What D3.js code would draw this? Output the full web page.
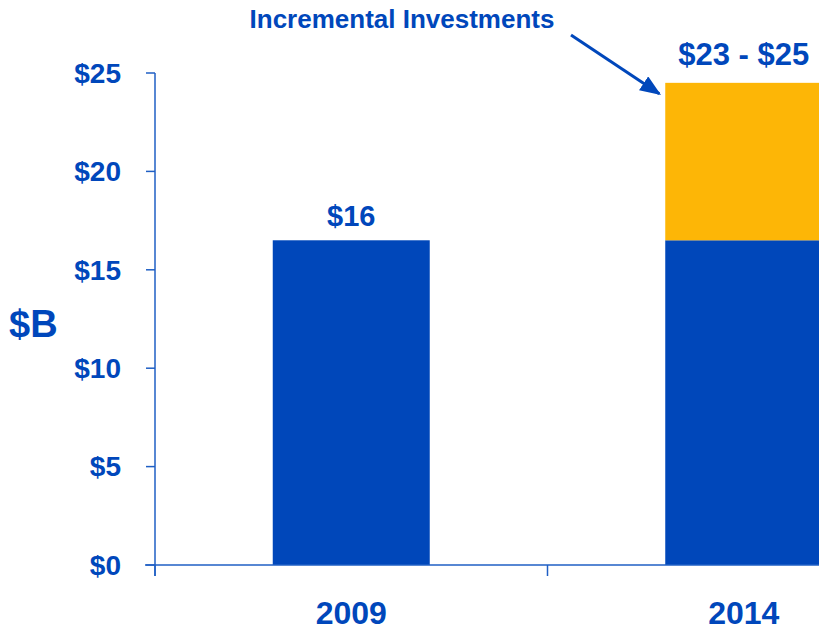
<!DOCTYPE html>
<html>
<head>
<meta charset="utf-8">
<script src="https://cdn.jsdelivr.net/npm/d3@7"></script>
<style>
  html, body { margin: 0; padding: 0; background: #fff; }
  svg { display: block; font-family: "Liberation Sans", Arial, sans-serif; font-weight: bold; }
</style>
</head>
<body>
<div id="chart"></div>
<script>
// Data
const years = ['2009', '2014'];
const baseValues = [16.5, 16.5];        // existing spend ($B)
const incrementalValues = [0, 8];       // incremental investments ($B)
const valueLabels = ['$16', '$23 - $25'];
const yTicks = [0, 5, 10, 15, 20, 25];

const width = 819;
const height = 630;
const textBlue = '#0047bb';
const barBlue = '#0047ba';
const barOrange = '#fdb606';
const axisBlue = '#1f5fc4';

const svg = d3.select('#chart')
  .append('svg')
  .attr('width', width)
  .attr('height', height);

// Scales — the plot runs past the right edge, like the original slide
const x = d3.scaleBand()
  .domain(years)
  .range([155, 940])
  .paddingInner(0.6)
  .paddingOuter(0.3);

const y = d3.scaleLinear()
  .domain([0, 25])
  .range([565, 73]);

const gap = (x.step() - x.bandwidth()) / 2;

// Bars: base (blue) + incremental (orange) stacked
const stackData = years.map((yr, i) => ({ year: yr, base: baseValues[i], inc: incrementalValues[i] }));

svg.selectAll('rect.base')
  .data(stackData)
  .join('rect')
  .attr('class', 'base')
  .attr('x', d => x(d.year))
  .attr('width', x.bandwidth())
  .attr('y', d => y(d.base))
  .attr('height', d => y(0) - y(d.base))
  .attr('fill', barBlue);

svg.selectAll('rect.inc')
  .data(stackData.filter(d => d.inc > 0))
  .join('rect')
  .attr('class', 'inc')
  .attr('x', d => x(d.year))
  .attr('width', x.bandwidth())
  .attr('y', d => y(d.base + d.inc))
  .attr('height', d => y(d.base) - y(d.base + d.inc))
  .attr('fill', barOrange);

// Y axis
const yAxis = svg.append('g').attr('class', 'y-axis');
yAxis.append('line')
  .attr('x1', 155).attr('x2', 155)
  .attr('y1', y(25)).attr('y2', y(0) + 11)
  .attr('stroke', axisBlue).attr('stroke-width', 1.5);

yAxis.selectAll('line.tick')
  .data(yTicks)
  .join('line')
  .attr('class', 'tick')
  .attr('x1', 146).attr('x2', 155)
  .attr('y1', d => y(d)).attr('y2', d => y(d))
  .attr('stroke', axisBlue).attr('stroke-width', 1.5);

yAxis.selectAll('text')
  .data(yTicks)
  .join('text')
  .attr('x', 121)
  .attr('y', d => y(d))
  .attr('dy', '0.35em')
  .attr('text-anchor', 'end')
  .attr('font-size', '28px')
  .attr('fill', textBlue)
  .text(d => '$' + d);

// X axis
const xAxis = svg.append('g').attr('class', 'x-axis');
xAxis.append('line')
  .attr('x1', 145).attr('x2', 940)
  .attr('y1', y(0)).attr('y2', y(0))
  .attr('stroke', axisBlue).attr('stroke-width', 1.5);

const boundaries = years.map(d => x(d) - gap).concat([x(years[years.length - 1]) + x.bandwidth() + gap]);
xAxis.selectAll('line.tick')
  .data(boundaries)
  .join('line')
  .attr('class', 'tick')
  .attr('x1', d => d).attr('x2', d => d)
  .attr('y1', y(0)).attr('y2', y(0) + 11)
  .attr('stroke', axisBlue).attr('stroke-width', 1.5);

xAxis.selectAll('text')
  .data(years)
  .join('text')
  .attr('x', d => x(d) + x.bandwidth() / 2)
  .attr('y', 624)
  .attr('text-anchor', 'middle')
  .attr('font-size', '32px')
  .attr('fill', textBlue)
  .text(d => d);

// Axis title
svg.append('text')
  .attr('x', 9)
  .attr('y', 337)
  .attr('font-size', '38px')
  .attr('fill', textBlue)
  .text('$B');

// Value labels over the bars
svg.selectAll('text.value')
  .data(stackData)
  .join('text')
  .attr('class', 'value')
  .attr('x', d => x(d.year) + x.bandwidth() / 2)
  .attr('y', (d, i) => y(d.base + d.inc) - (i === 0 ? 14 : 18))
  .attr('text-anchor', 'middle')
  .attr('font-size', (d, i) => i === 0 ? '29px' : '31px')
  .attr('fill', textBlue)
  .text((d, i) => valueLabels[i]);

// Annotation with arrow pointing to the incremental segment
svg.append('defs').append('marker')
  .attr('id', 'arrow')
  .attr('viewBox', '0 0 10 8')
  .attr('refX', 9).attr('refY', 4)
  .attr('markerWidth', 7).attr('markerHeight', 5.6)
  .attr('markerUnits', 'strokeWidth')
  .attr('orient', 'auto')
  .append('path')
  .attr('d', 'M0,0 L10,4 L0,8 Z')
  .attr('fill', textBlue);

svg.append('text')
  .attr('x', 402)
  .attr('y', 28)
  .attr('text-anchor', 'middle')
  .attr('font-size', '26px')
  .attr('fill', textBlue)
  .text('Incremental Investments');

const target = stackData[1];
svg.append('line')
  .attr('x1', 571).attr('y1', 35)
  .attr('x2', x(target.year) - 6).attr('y2', y(target.base + target.inc) + 11)
  .attr('stroke', textBlue)
  .attr('stroke-width', 3)
  .attr('marker-end', 'url(#arrow)');
</script>
</body>
</html>
